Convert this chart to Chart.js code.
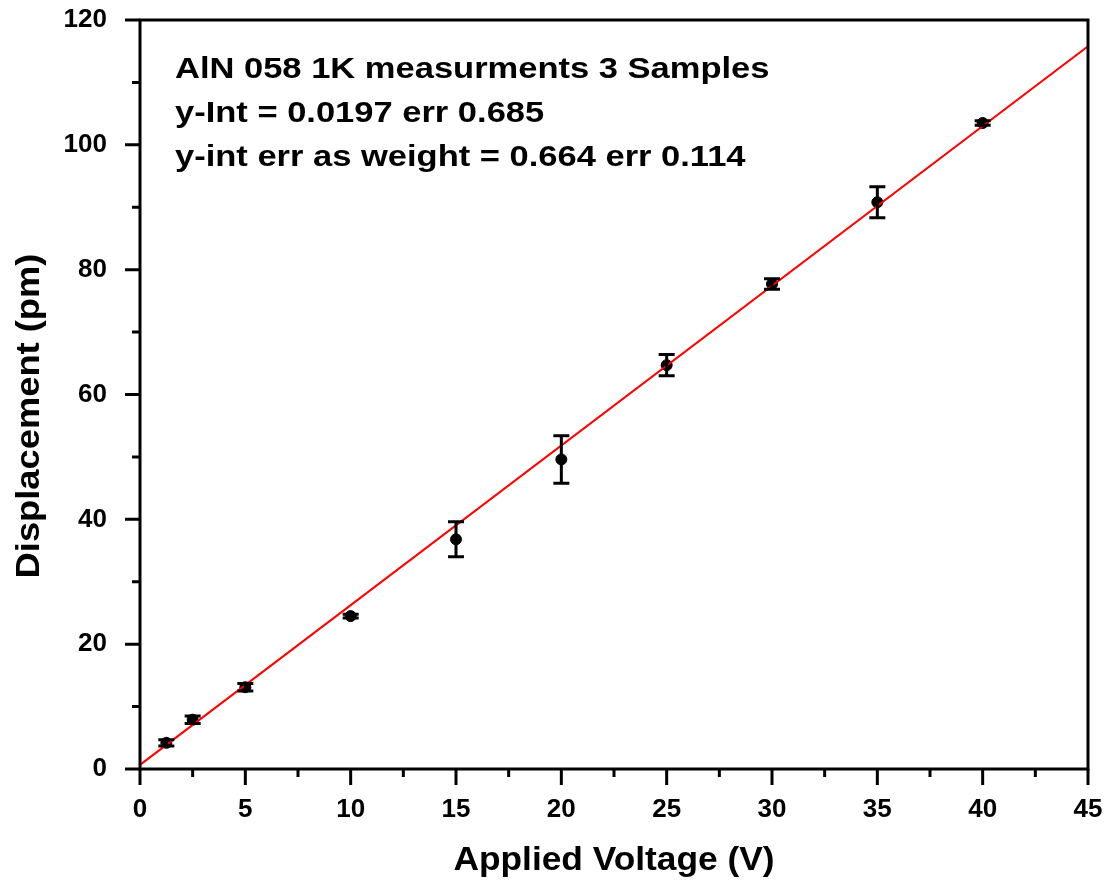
<!DOCTYPE html>
<html>
<head>
<meta charset="utf-8">
<script src="https://cdn.jsdelivr.net/npm/chart.js@4"></script>
<style>
  html, body { margin: 0; padding: 0; background: #fff; }
  #wrap { width: 1109px; height: 882px; }
</style>
</head>
<body>
<div id="wrap"><canvas id="chart" width="1109" height="882"></canvas></div>
<script>
// measured values
const voltage = [1.25, 2.5, 5, 10, 15, 20, 25, 30, 35, 40];
const displacement = [4.2, 7.9, 13.1, 24.5, 36.8, 49.6, 64.7, 77.7, 90.8, 103.5];
const errors = [0.5, 0.6, 0.6, 0.3, 2.8, 3.8, 1.7, 0.85, 2.5, 0.35];

// linear fit endpoints
const fitX = [0, 45];
const fitY = [0.664, 115.8];

const xTicks = [0, 5, 10, 15, 20, 25, 30, 35, 40, 45];
const yTicks = [0, 20, 40, 60, 80, 100, 120];

const notes = [
  "AlN 058 1K measurments 3 Samples",
  "y-Int = 0.0197 err 0.685",
  "y-int err as weight = 0.664 err 0.114"
];
const xTitle = "Applied Voltage (V)";
const yTitle = "Displacement (pm)";

const FONT = "'Liberation Sans', Arial, sans-serif";

// draws text stretched sideways, like the original export
function wideText(ctx, text, x, y, sx, align) {
  ctx.save();
  ctx.translate(x, y);
  ctx.scale(sx, 1);
  ctx.textAlign = align;
  ctx.fillText(text, 0, 0);
  ctx.restore();
}

// error bars, frame, tick marks, titles and text box
const extras = {
  id: "extras",
  afterDatasetsDraw(chart) {
    const { ctx, scales: { x, y } } = chart;
    ctx.save();
    ctx.strokeStyle = "#000";
    ctx.lineWidth = 3;
    voltage.forEach((v, i) => {
      const px = x.getPixelForValue(v);
      const top = y.getPixelForValue(displacement[i] + errors[i]);
      const bot = y.getPixelForValue(displacement[i] - errors[i]);
      ctx.beginPath();
      ctx.moveTo(px, top); ctx.lineTo(px, bot);
      ctx.moveTo(px - 8, top); ctx.lineTo(px + 8, top);
      ctx.moveTo(px - 8, bot); ctx.lineTo(px + 8, bot);
      ctx.stroke();
    });
    ctx.restore();
  },
  afterDraw(chart) {
    const { ctx, chartArea: a, scales: { x, y } } = chart;
    ctx.save();
    ctx.strokeStyle = "#000";
    ctx.lineWidth = 3;
    ctx.strokeRect(a.left, a.top, a.right - a.left, a.bottom - a.top);

    // ticks: major every 5 / 20, minor halfway
    ctx.beginPath();
    for (let v = 0; v <= 45; v += 2.5) {
      const px = x.getPixelForValue(v);
      const len = xTicks.includes(v) ? 16 : 8;
      ctx.moveTo(px, a.bottom); ctx.lineTo(px, a.bottom + len);
    }
    for (let v = 0; v <= 120; v += 10) {
      const py = y.getPixelForValue(v);
      const len = yTicks.includes(v) ? 15 : 8;
      ctx.moveTo(a.left, py); ctx.lineTo(a.left - len, py);
    }
    ctx.stroke();

    ctx.fillStyle = "#000";
    ctx.textBaseline = "middle";
    ctx.font = "bold 30px " + FONT;
    notes.forEach((t, i) => wideText(ctx, t, a.left + 35, a.top + 50 + i * 44, 1.15, "left"));

    ctx.font = "bold 33px " + FONT;
    wideText(ctx, xTitle, (a.left + a.right) / 2, 861, 1.07, "center");
    ctx.save();
    ctx.translate(30, 416);
    ctx.rotate(-Math.PI / 2);
    wideText(ctx, yTitle, 0, 0, 1.1, "center");
    ctx.restore();
    ctx.restore();
  }
};

const ctx = document.getElementById("chart").getContext("2d");
new Chart(ctx, {
  type: "scatter",
  data: {
    datasets: [
      {
        label: "Fit",
        data: fitX.map((v, i) => ({ x: v, y: fitY[i] })),
        showLine: true,
        borderColor: "#ff0000",
        borderWidth: 2,
        pointRadius: 0
      },
      {
        label: "Displacement",
        data: voltage.map((v, i) => ({ x: v, y: displacement[i] })),
        backgroundColor: "#000",
        borderColor: "#000",
        pointRadius: 5.5
      }
    ]
  },
  plugins: [extras],
  options: {
    responsive: false,
    animation: false,
    layout: { padding: { top: 20, right: 21, left: 0, bottom: 0 } },
    plugins: { legend: { display: false }, tooltip: { enabled: false } },
    scales: {
      x: {
        type: "linear",
        min: 0,
        max: 45,
        afterFit: s => { s.height = 113; s.paddingLeft = 0; s.paddingRight = 0; },
        afterBuildTicks: s => { s.ticks = xTicks.map(v => ({ value: v })); },
        grid: { display: false },
        border: { display: false },
        ticks: { color: "#000", padding: 17, font: { family: FONT, size: 26, weight: "bold" } }
      },
      y: {
        type: "linear",
        min: 0,
        max: 120,
        afterFit: s => { s.width = 140; s.paddingTop = 0; s.paddingBottom = 0; },
        afterBuildTicks: s => { s.ticks = yTicks.map(v => ({ value: v })); },
        grid: { display: false },
        border: { display: false },
        ticks: { color: "#000", padding: 25, font: { family: FONT, size: 26, weight: "bold" } }
      }
    }
  }
});
</script>
</body>
</html>
